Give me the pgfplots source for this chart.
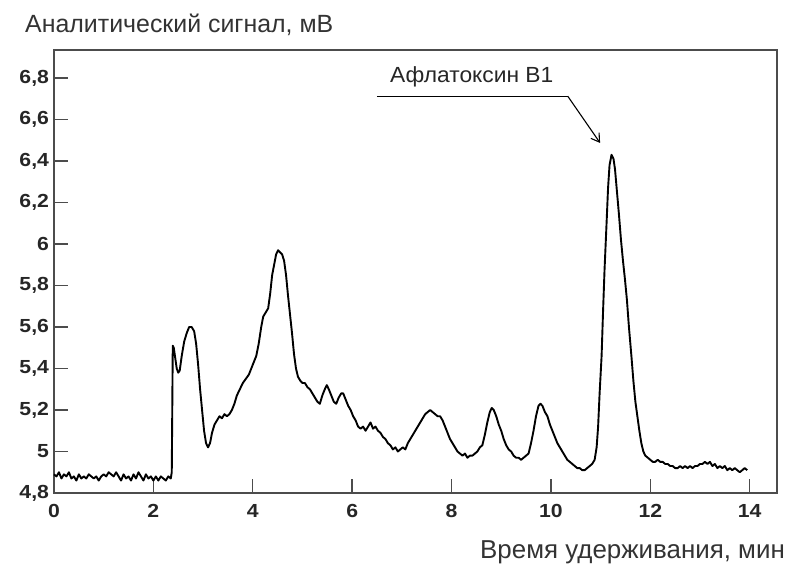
\documentclass[border=0pt]{standalone}
\usepackage{pgfplots}
\pgfplotsset{compat=1.18}
\usepackage{fontspec}
\setmainfont{Liberation Sans}
\usetikzlibrary{arrows.meta}
\pgfplotstableread{
x y
0 4.89
0.05 4.88
0.1 4.90
0.15 4.87
0.2 4.89
0.25 4.88
0.3 4.90
0.35 4.87
0.4 4.88
0.45 4.86
0.5 4.89
0.55 4.87
0.6 4.88
0.65 4.87
0.7 4.89
0.75 4.88
0.8 4.87
0.85 4.88
0.9 4.86
0.95 4.88
1.0 4.89
1.05 4.88
1.1 4.90
1.15 4.89
1.2 4.88
1.25 4.90
1.3 4.88
1.35 4.86
1.4 4.89
1.45 4.87
1.5 4.88
1.55 4.86
1.6 4.89
1.65 4.87
1.7 4.90
1.75 4.88
1.8 4.86
1.85 4.89
1.9 4.87
1.95 4.88
2.0 4.86
2.05 4.88
2.1 4.86
2.15 4.88
2.2 4.87
2.25 4.86
2.3 4.88
2.35 4.87
2.37 4.90
2.38 5.20
2.39 5.51
2.41 5.50
2.44 5.45
2.47 5.40
2.5 5.38
2.53 5.39
2.57 5.46
2.62 5.53
2.67 5.57
2.72 5.60
2.77 5.60
2.82 5.58
2.86 5.52
2.9 5.42
2.94 5.30
2.98 5.20
3.02 5.10
3.06 5.04
3.1 5.02
3.14 5.04
3.18 5.09
3.23 5.13
3.28 5.15
3.33 5.17
3.38 5.16
3.43 5.18
3.48 5.17
3.53 5.18
3.58 5.20
3.63 5.23
3.68 5.27
3.74 5.30
3.8 5.33
3.86 5.35
3.92 5.37
3.97 5.40
4.02 5.43
4.07 5.46
4.12 5.52
4.17 5.60
4.21 5.65
4.26 5.67
4.31 5.69
4.35 5.76
4.39 5.85
4.43 5.90
4.47 5.95
4.51 5.97
4.55 5.96
4.59 5.95
4.63 5.92
4.67 5.85
4.71 5.75
4.75 5.66
4.79 5.57
4.83 5.47
4.87 5.40
4.91 5.36
4.96 5.34
5.0 5.33
5.05 5.33
5.1 5.31
5.15 5.30
5.2 5.28
5.25 5.26
5.3 5.24
5.35 5.23
5.4 5.27
5.45 5.30
5.49 5.32
5.53 5.30
5.58 5.27
5.63 5.24
5.68 5.23
5.73 5.26
5.78 5.28
5.82 5.28
5.87 5.25
5.92 5.22
5.97 5.20
6.02 5.17
6.07 5.15
6.12 5.12
6.17 5.11
6.22 5.12
6.27 5.10
6.32 5.12
6.37 5.14
6.42 5.11
6.47 5.12
6.52 5.10
6.57 5.09
6.62 5.07
6.67 5.06
6.72 5.04
6.77 5.03
6.82 5.01
6.87 5.02
6.92 5.00
6.97 5.01
7.02 5.02
7.07 5.01
7.12 5.04
7.17 5.06
7.22 5.08
7.27 5.10
7.32 5.12
7.37 5.14
7.42 5.16
7.47 5.18
7.52 5.19
7.57 5.20
7.62 5.19
7.67 5.18
7.72 5.17
7.77 5.17
7.82 5.15
7.87 5.12
7.92 5.09
7.97 5.06
8.02 5.04
8.07 5.02
8.12 5.00
8.17 4.99
8.22 4.98
8.27 4.99
8.32 4.97
8.37 4.98
8.42 4.98
8.47 4.99
8.52 5.00
8.57 5.02
8.62 5.03
8.67 5.08
8.72 5.14
8.77 5.19
8.81 5.21
8.85 5.20
8.9 5.17
8.95 5.13
9.0 5.10
9.05 5.06
9.1 5.03
9.15 5.01
9.2 5.00
9.25 4.98
9.3 4.97
9.35 4.97
9.4 4.96
9.45 4.97
9.5 4.98
9.55 4.99
9.6 5.04
9.65 5.10
9.7 5.17
9.75 5.22
9.79 5.23
9.83 5.22
9.88 5.19
9.93 5.17
9.98 5.13
10.03 5.10
10.08 5.07
10.13 5.04
10.18 5.02
10.23 5.00
10.28 4.98
10.33 4.96
10.38 4.95
10.43 4.94
10.48 4.93
10.53 4.92
10.58 4.92
10.63 4.91
10.68 4.91
10.73 4.92
10.78 4.93
10.83 4.94
10.88 4.96
10.92 5.02
10.95 5.12
10.98 5.28
11.02 5.46
11.05 5.68
11.08 5.88
11.12 6.10
11.15 6.27
11.18 6.38
11.22 6.43
11.26 6.41
11.29 6.36
11.33 6.25
11.37 6.14
11.41 6.02
11.45 5.92
11.49 5.83
11.53 5.73
11.57 5.60
11.62 5.46
11.66 5.34
11.7 5.24
11.74 5.17
11.78 5.10
11.82 5.04
11.86 5.00
11.9 4.98
11.95 4.97
12.0 4.96
12.05 4.95
12.1 4.95
12.15 4.96
12.2 4.95
12.25 4.95
12.3 4.94
12.35 4.94
12.4 4.93
12.45 4.93
12.5 4.92
12.55 4.92
12.6 4.93
12.65 4.92
12.7 4.93
12.75 4.92
12.8 4.93
12.85 4.92
12.9 4.93
12.95 4.93
13.0 4.94
13.05 4.94
13.1 4.95
13.15 4.94
13.2 4.95
13.25 4.93
13.3 4.94
13.35 4.92
13.4 4.93
13.45 4.92
13.5 4.93
13.55 4.91
13.6 4.92
13.65 4.91
13.7 4.92
13.75 4.91
13.8 4.90
13.85 4.91
13.9 4.92
13.95 4.91
}\chrom
\begin{document}
\begin{tikzpicture}
\path (0bp,0bp) rectangle (787bp,564bp);
\begin{axis}[
  at={(54bp,71bp)}, anchor=south west,
  scale only axis, width=723bp, height=443bp,
  xmin=0, xmax=14.55, ymin=4.8, ymax=6.935,
  xtick={0,2,4,6,8,10,12,14},
  xticklabels={0,2,4,6,8,10,12,14},
  ytick={4.8,5,5.2,5.4,5.6,5.8,6,6.2,6.4,6.6,6.8},
  yticklabels={{4,8},{5},{5,2},{5,4},{5,6},{5,8},{6},{6,2},{6,4},{6,6},{6,8}},
  tick pos=left, tick align=inside,
  major tick length=14bp,
  axis line style={black!70, line width=1.4bp},
  tick style={black!70, line width=1.3bp},
  ticklabel style={font=\fontsize{19}{19}\selectfont\bfseries, text=black!85, xscale=1.12},
  yticklabel style={xshift=-1bp},
  xticklabel style={yshift=-8bp},
  clip=false,
]
\addplot[black, line width=1.9bp, line join=round] table[x=x,y=y]{\chrom};
\draw[black, line width=1.1bp] (axis cs:6.50,6.712) -- (axis cs:10.34,6.712);
\draw[black, line width=1.1bp, -{Straight Barb[length=8bp,width=10bp]}] (axis cs:10.34,6.712) -- (axis cs:10.99,6.487);
\node[anchor=base west, inner sep=0pt, xscale=1.04, font=\fontsize{22}{22}\selectfont, text=black!85] at (axis cs:6.76,6.78) {Афлатоксин В1};
\end{axis}
\node[anchor=base west, inner sep=0pt, xscale=1.0, font=\fontsize{25}{25}\selectfont, text=black!80] at (25bp,531bp) {Аналитический сигнал, мВ};
\node[anchor=base east, inner sep=0pt, xscale=1.0, font=\fontsize{26}{26}\selectfont, text=black!80] at (785bp,6bp) {Время удерживания, мин};
\end{tikzpicture}
\end{document}
